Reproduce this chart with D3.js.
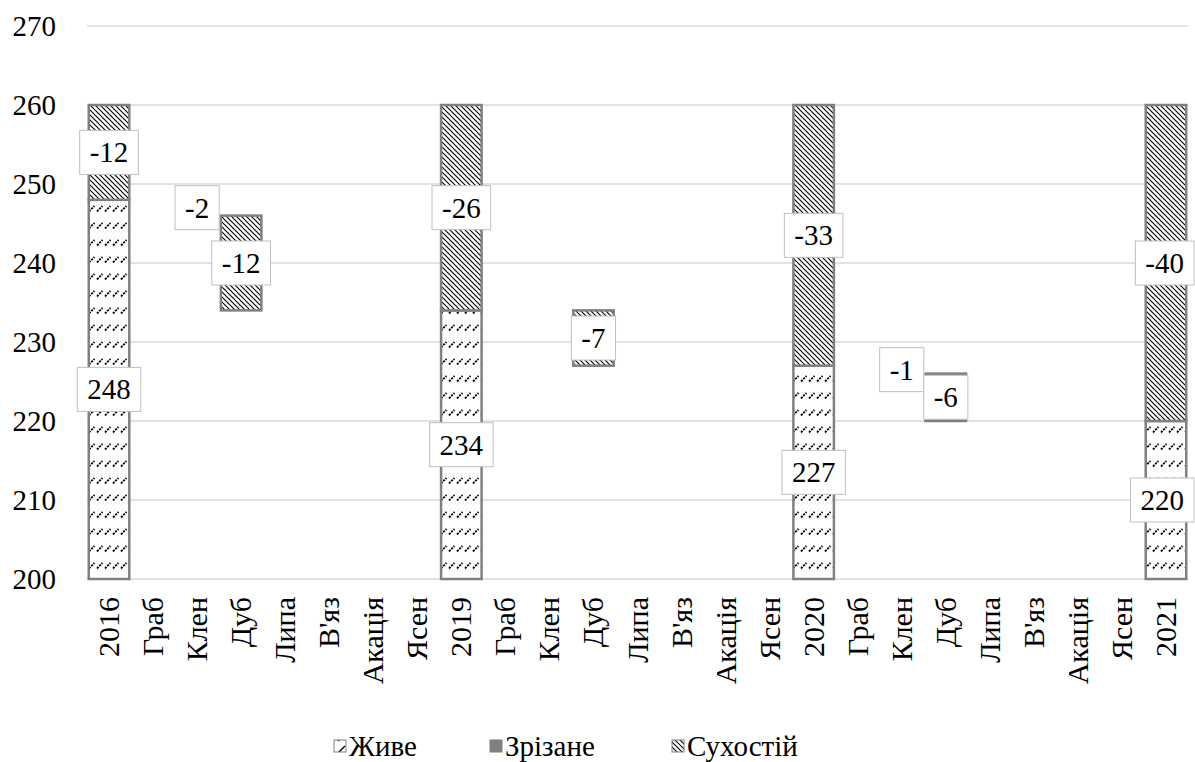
<!DOCTYPE html>
<html>
<head>
<meta charset="utf-8">
<script src="https://cdn.jsdelivr.net/npm/d3@7"></script>
<style>
  html, body { margin: 0; padding: 0; background: #fff; }
</style>
</head>
<body>
<svg id="chart" width="1195" height="762"></svg>
<script>
// ---------- data ----------
const categories = ["2016","Граб","Клен","Дуб","Липа","В'яз","Акація","Ясен",
                    "2019","Граб","Клен","Дуб","Липа","В'яз","Акація","Ясен",
                    "2020","Граб","Клен","Дуб","Липа","В'яз","Акація","Ясен","2021"];
const liveValues = [248,null,null,null,null,null,null,null,
                    234,null,null,null,null,null,null,null,
                    227,null,null,null,null,null,null,null,220];
const cutValues  = [null,null,-2,null,null,null,null,null,
                    null,null,null,null,null,null,null,null,
                    null,null,-1,-6,null,null,null,null,null];
const deadValues = [-12,null,null,-12,null,null,null,null,
                    -26,null,null,-7,null,null,null,null,
                    -33,null,null,null,null,null,null,null,-40];
const seriesNames = ["Живе","Зрізане","Сухостій"];
const yTicks = [200,210,220,230,240,250,260,270];

// ---------- layout ----------
const W = 1195, H = 762;
const FONT = "Liberation Serif";
const FS = 29;
const OFF = FS * 0.34;   // baseline offset for vertical centring
const plot = {left: 87, right: 1188, top: 26, bottom: 579};
const svg = d3.select("#chart");

const x = d3.scaleBand().domain(d3.range(categories.length))
  .range([plot.left, plot.right]).paddingInner(0.08).paddingOuter(0.04);
const y = d3.scaleLinear().domain([200, 270]).range([plot.bottom, plot.top]);

// ---------- patterns ----------
const defs = svg.append("defs");
const pLive = defs.append("pattern").attr("id","pLive").attr("patternUnits","userSpaceOnUse")
  .attr("width",8).attr("height",17);
pLive.append("rect").attr("width",8).attr("height",17).attr("fill","#fff");
pLive.append("path").attr("d","M1,7.5 L6.5,2").attr("stroke","#000").attr("stroke-width",1.8)
  .attr("stroke-dasharray","2.2,1");
const pDead = defs.append("pattern").attr("id","pDead").attr("patternUnits","userSpaceOnUse")
  .attr("width",5).attr("height",5);
pDead.append("rect").attr("width",5).attr("height",5).attr("fill","#fff");
pDead.append("path").attr("d","M0,0 L5,5 M-1,4 L1,6 M4,-1 L6,1").attr("stroke","#000").attr("stroke-width",1.1);
const pLiveSw = defs.append("pattern").attr("id","pLiveSw").attr("patternUnits","userSpaceOnUse")
  .attr("width",12).attr("height",12);
pLiveSw.append("rect").attr("width",12).attr("height",12).attr("fill","#fff");
pLiveSw.append("path").attr("d","M2,9 L9,2").attr("stroke","#000").attr("stroke-width",1.5);

const fills = {live: "url(#pLive)", cut: "#808080", dead: "url(#pDead)"};

// ---------- grid ----------
svg.append("g").selectAll("line").data(yTicks).join("line")
  .attr("x1", plot.left).attr("x2", plot.right)
  .attr("y1", d => y(d)).attr("y2", d => y(d))
  .attr("stroke", "#d9d9d9").attr("stroke-width", 1.5);

// y tick labels
svg.append("g").selectAll("text").data(yTicks).join("text")
  .attr("x", 56).attr("y", d => y(d) + OFF)
  .attr("text-anchor","end").attr("font-size", FS).attr("font-family", FONT).attr("fill","#000")
  .text(d => d);

// x labels
svg.append("g").selectAll("text").data(categories).join("text")
  .attr("transform", (d,i) => `translate(${x(i) + x.bandwidth()/2 + 10},597) rotate(-90)`)
  .attr("text-anchor","end").attr("font-size", 30).attr("font-family", FONT).attr("fill","#000")
  .text(d => d);

// ---------- build segments ----------
const segs = [];
let running = null;
categories.forEach((c, i) => {
  if (liveValues[i] != null) {
    running = liveValues[i];
    segs.push({i, lo: y.domain()[0], hi: running, kind: "live", label: running});
    if (deadValues[i] != null) {
      segs.push({i, lo: running, hi: running - deadValues[i], kind: "dead", label: deadValues[i]});
    }
  } else {
    if (cutValues[i] != null) {
      segs.push({i, lo: running + cutValues[i], hi: running, kind: "cut", label: cutValues[i]});
      running += cutValues[i];
    }
    if (deadValues[i] != null) {
      segs.push({i, lo: running + deadValues[i], hi: running, kind: "dead", label: deadValues[i]});
      running += deadValues[i];
    }
  }
});

const bw = x.bandwidth();
svg.append("g").selectAll("rect").data(segs).join("rect")
  .attr("x", d => x(d.i)).attr("width", bw)
  .attr("y", d => y(d.hi)).attr("height", d => y(d.lo) - y(d.hi))
  .attr("fill", d => fills[d.kind])
  .attr("stroke", "#808080").attr("stroke-width", 2.5);

// ---------- labels ----------
const lg = svg.append("g");
segs.forEach(d => {
  const cx = x(d.i) + bw/2;
  const cy = y((d.lo + d.hi)/2);
  const g = lg.append("g");
  const t = g.append("text").attr("x", cx).attr("y", cy + OFF)
    .attr("text-anchor","middle").attr("font-size", FS).attr("font-family", FONT)
    .attr("fill","#000").text(d.label);
  const tw = t.node().getComputedTextLength();
  const bwid = tw + 20, bh = 44;
  let bx = cx - bwid/2;
  if (bx + bwid > W - 1) bx = W - 1 - bwid;
  t.attr("x", bx + bwid/2);
  g.insert("rect","text").attr("x", bx).attr("y", cy - bh/2).attr("width", bwid).attr("height", bh)
    .attr("fill","#fff").attr("stroke","#bfbfbf").attr("stroke-width",1);
});

// ---------- legend ----------
const legendItems = [
  {name: seriesNames[0], fill: "url(#pLiveSw)", sx: 334},
  {name: seriesNames[1], fill: "#808080", sx: 490},
  {name: seriesNames[2], fill: "url(#pDead)", sx: 672}
];
const leg = svg.append("g");
legendItems.forEach(it => {
  leg.append("rect").attr("x", it.sx).attr("y", 740).attr("width", 12).attr("height", 12)
    .attr("fill", it.fill).attr("stroke","#808080").attr("stroke-width",1);
  leg.append("text").attr("x", it.sx + 15).attr("y", 746 + OFF)
    .attr("font-size", FS).attr("font-family", FONT).attr("fill","#000").text(it.name);
});
</script>
</body>
</html>
